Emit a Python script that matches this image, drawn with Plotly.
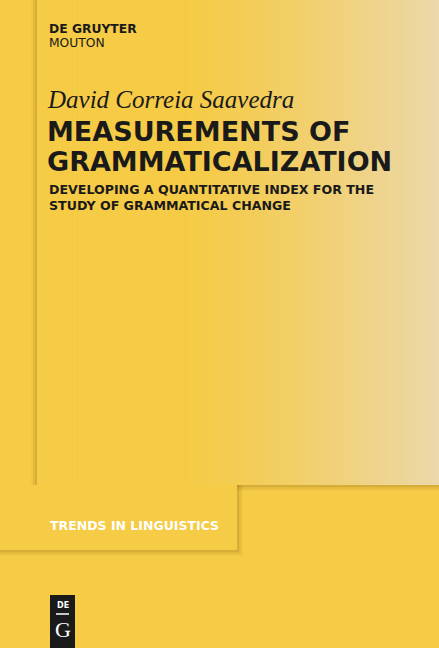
import plotly.graph_objects as go

publisher = ["DE GRUYTER", "MOUTON"]
author = "David Correia Saavedra"
title_lines = ["MEASUREMENTS OF", "GRAMMATICALIZATION"]
subtitle_lines = ["DEVELOPING A QUANTITATIVE INDEX FOR THE", "STUDY OF GRAMMATICAL CHANGE"]
series_name = "TRENDS IN LINGUISTICS"

W, H = 439, 648
BG = (246, 203, 70)
END = (236, 216, 170)

fig = go.Figure()
shapes = []
shapes.append(dict(type="rect", x0=0, x1=W, y0=0, y1=H, fillcolor="rgb(246,203,70)", line_width=0, layer="below"))
for i, a in enumerate([0.10, 0.07, 0.04]):
    d = i + 1
    shapes.append(dict(type="rect", x0=0, x1=237 + d * 2, y0=485, y1=550 + d * 2,
                       fillcolor=f"rgba(90,60,0,{a})", line_width=0, layer="below"))
    shapes.append(dict(type="rect", x0=37 - d * 2, x1=W, y0=0, y1=485 + d * 2,
                       fillcolor=f"rgba(90,60,0,{a})", line_width=0, layer="below"))
shapes.append(dict(type="rect", x0=0, x1=237, y0=485, y1=550, fillcolor="rgb(246,203,70)", line_width=0, layer="below"))
x0, x1 = 37, W
n = 80
for k in range(n):
    tt = k / (n - 1)
    t2 = max(0.0, (tt - 0.35) / 0.65) ** 1.3
    c = tuple(int(BG[j] + (END[j] - BG[j]) * t2) for j in range(3))
    xa = x0 + (x1 - x0) * k / n
    xb = x0 + (x1 - x0) * (k + 1) / n + 0.6
    shapes.append(dict(type="rect", x0=xa, x1=xb, y0=0, y1=485, fillcolor=f"rgb{c}", line_width=0, layer="below"))
shapes.append(dict(type="rect", x0=50, x1=75, y0=595, y1=H, fillcolor="#1a1a1a", line_width=0))
shapes.append(dict(type="line", x0=56, x1=69, y0=614, y1=614, line=dict(color="white", width=1.5)))

ann = []
def t(x, y, s, size, color="#1a1a1a", family="DejaVu Sans", anchor="left"):
    ann.append(dict(x=x, y=y, text=s, showarrow=False, xanchor=anchor, yanchor="middle",
                    font=dict(size=size, color=color, family=family)))

t(47, 29, f"<b>{publisher[0]}</b>", 12.3)
t(47, 43, publisher[1], 12.3)
t(45, 99, f"<i>{author}</i>", 25, family="Liberation Serif")
t(45, 131, f"<b>{title_lines[0]}</b>", 27)
t(45, 161, f"<b>{title_lines[1]}</b>", 27)
t(47, 189, f"<b>{subtitle_lines[0]}</b>", 12.6)
t(47, 205, f"<b>{subtitle_lines[1]}</b>", 12.6)
t(48, 525, f"<b>{series_name}</b>", 12.5, color="white")
t(62.5, 605, "<b>DE</b>", 8, color="white", anchor="center")
t(62.5, 629, "G", 22, color="white", family="Liberation Serif", anchor="center")

fig.update_layout(width=W, height=H, margin=dict(l=0, r=0, t=0, b=0),
                  shapes=shapes, annotations=ann, plot_bgcolor="rgb(246,203,70)", paper_bgcolor="rgb(246,203,70)",
                  xaxis=dict(range=[0, W], visible=False, fixedrange=True),
                  yaxis=dict(range=[H, 0], visible=False, fixedrange=True),
                  showlegend=False)
fig.write_html("out.html", config={"displayModeBar": False},
               post_script="document.body.style.margin='0';document.body.style.overflow='hidden';")
